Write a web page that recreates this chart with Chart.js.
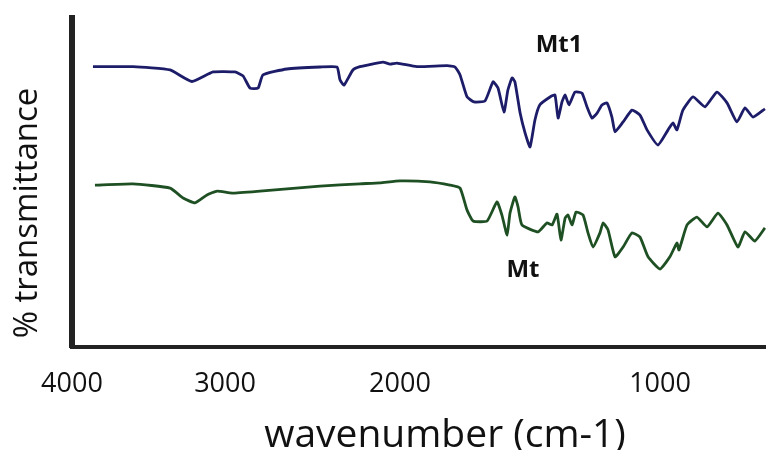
<!DOCTYPE html>
<html>
<head>
<meta charset="utf-8">
<script src="https://cdn.jsdelivr.net/npm/chart.js@4.4.0/dist/chart.umd.min.js"></script>
<style>
    html, body { margin: 0; padding: 0; background: #fff; }
</style>
</head>
<body>
<canvas id="irChart" width="766" height="450"></canvas>
<script>
// FTIR spectra, wavenumber (cm-1) vs % transmittance
const MT1_WN = [3863, 3601, 3359, 3216, 3078, 2943, 2897, 2857, 2811, 2783, 2646, 2457, 2360, 2343, 2320,
    2269, 2229, 2160, 2097, 2057, 2017, 1935, 1819, 1788, 1769, 1742, 1715, 1673, 1642, 1623,
    1600, 1585, 1569, 1558, 1538, 1519, 1500, 1481, 1462, 1423, 1404, 1392, 1377, 1365, 1350,
    1327, 1300, 1281, 1262, 1242, 1223, 1204, 1185, 1173, 1142, 1108, 1077, 1050, 1008, 969,
    950, 935, 912, 873, 827, 781, 742, 704, 673, 642, 596];
const MT1_T = [85.2, 85.2, 84.2, 80.7, 83.6, 83.6, 82.4, 78.7, 78.7, 82.7, 84.5, 85.1, 85.1, 81.2, 79.6,
    84.2, 85.2, 86.0, 86.6, 86.0, 86.3, 85.2, 85.5, 85.1, 82.7, 76.0, 74.5, 74.8, 80.6, 78.7,
    71.4, 78.1, 81.8, 80.6, 71.1, 65.1, 60.8, 69.0, 73.6, 76.0, 76.6, 69.6, 74.5, 76.6, 73.6,
    77.5, 77.2, 73.0, 69.6, 71.1, 73.6, 74.2, 69.9, 65.4, 68.4, 72.0, 70.5, 66.0, 61.4, 66.0,
    68.1, 66.0, 72.0, 76.0, 73.0, 77.5, 74.2, 68.4, 72.7, 69.9, 72.4];

const MT_WN = [3850, 3601, 3359, 3274, 3196, 3118, 3052, 2960, 2800, 2457, 2229, 2114, 2000, 1885, 1808,
    1769, 1742, 1719, 1665, 1627, 1608, 1588, 1577, 1558, 1546, 1531, 1469, 1435, 1415, 1396,
    1381, 1365, 1354, 1338, 1323, 1296, 1277, 1258, 1231, 1219, 1200, 1173, 1142, 1108, 1077,
    1046, 1000, 962, 935, 927, 896, 858, 819, 777, 742, 700, 673, 635, 596];
const MT_T = [49.2, 49.6, 48.3, 45.3, 43.8, 46.2, 47.4, 46.8, 47.4, 48.9, 49.6, 49.9, 50.5, 50.2, 49.2,
    48.3, 41.6, 38.3, 38.3, 44.1, 40.1, 34.0, 40.7, 45.6, 42.6, 37.1, 35.0, 37.7, 37.1, 40.4,
    32.5, 39.2, 40.1, 37.1, 41.0, 40.1, 34.7, 30.4, 34.7, 37.7, 35.6, 27.4, 30.4, 34.7, 33.4,
    27.4, 23.7, 27.4, 31.6, 29.5, 37.1, 39.5, 36.5, 40.7, 37.1, 30.4, 35.0, 32.2, 36.2];

const SERIES_NAMES = ["Mt1", "Mt"];
const LABEL_WN = [1388, 1527];
const LABEL_T = [91.8, 23.4];
const X_TICKS = [4000, 3000, 2000, 1000];
const X_TITLE = "wavenumber (cm-1)";
const Y_TITLE = "% transmittance";

// the original axis is not linear: each 1000 cm-1 gets a different width
const AXIS_KNOTS = [[4000, 0], [3000, 0.2205], [2000, 0.4726], [1000, 0.8473], [592, 1]];

class IrScale extends Chart.LinearScale {
    getPixelForValue(value) {
        let frac = 0;
        for (let i = 0; i < AXIS_KNOTS.length - 1; i++) {
            const [v0, f0] = AXIS_KNOTS[i];
            const [v1, f1] = AXIS_KNOTS[i + 1];
            if (value <= v0 && value >= v1 || i == AXIS_KNOTS.length - 2) {
                frac = f0 + (v0 - value) / (v0 - v1) * (f1 - f0);
                break;
            }
        }
        return this.getPixelForDecimal(frac);
    }
    getValueForPixel(pixel) {
        const frac = this.getDecimalForPixel(pixel);
        for (let i = 0; i < AXIS_KNOTS.length - 1; i++) {
            const [v0, f0] = AXIS_KNOTS[i];
            const [v1, f1] = AXIS_KNOTS[i + 1];
            if (frac <= f1 || i == AXIS_KNOTS.length - 2) {
                return v0 - (frac - f0) / (f1 - f0) * (v0 - v1);
            }
        }
    }
}
IrScale.id = 'irscale';
IrScale.defaults = Chart.LinearScale.defaults;
Chart.register(IrScale);

function toPoints(xs, ys) {
    return xs.map((x, i) => ({x: x, y: ys[i]}));
}

const textPlugin = {
    id: 'irText',
    afterDraw(chart) {
        const ctx = chart.ctx;
        const xs = chart.scales.x;
        const ys = chart.scales.y;
        ctx.save();
        ctx.fillStyle = '#111';
        ctx.textAlign = 'center';
        ctx.textBaseline = 'middle';
        ctx.font = 'bold 24px "Open Sans"';
        for (let i = 0; i < SERIES_NAMES.length; i++) {
            ctx.fillText(SERIES_NAMES[i], xs.getPixelForValue(LABEL_WN[i]), ys.getPixelForValue(LABEL_T[i]));
        }
        ctx.font = '39px "Open Sans"';
        ctx.fillText(X_TITLE, 445, 436);
        ctx.translate(28, 213);
        ctx.rotate(-Math.PI / 2);
        ctx.font = '33px "Open Sans"';
        ctx.fillText(Y_TITLE, 0, 0);
        ctx.restore();
    }
};

new Chart(document.getElementById('irChart'), {
    type: 'line',
    data: {
        datasets: [{
            label: SERIES_NAMES[0],
            data: toPoints(MT1_WN, MT1_T),
            borderColor: 'rgb(28, 28, 105)',
            borderWidth: 2.8,
            pointRadius: 0,
            tension: 0.15
        }, {
            label: SERIES_NAMES[1],
            data: toPoints(MT_WN, MT_T),
            borderColor: 'rgb(30, 80, 35)',
            borderWidth: 2.8,
            pointRadius: 0,
            tension: 0.15
        }]
    },
    options: {
        responsive: false,
        animation: false,
        layout: {padding: {top: 18, right: 0, bottom: 0, left: 0}},
        plugins: {legend: {display: false}, tooltip: {enabled: false}},
        scales: {
            x: {
                type: 'irscale',
                min: 592,
                max: 4000,
                grid: {display: false},
                border: {display: true, color: '#222', width: 4},
                afterBuildTicks: (axis) => { axis.ticks = X_TICKS.map(v => ({value: v})); },
                afterFit: (axis) => { axis.height = 103; },
                ticks: {
                    color: '#111',
                    padding: 13,
                    maxRotation: 0,
                    autoSkip: false,
                    font: {family: '"Open Sans"', size: 27},
                    callback: (v) => String(v)
                }
            },
            y: {
                min: 0,
                max: 100,
                grid: {display: false},
                border: {display: true, color: '#222', width: 6},
                ticks: {display: false},
                afterFit: (axis) => { axis.width = 72; }
            }
        }
    },
    plugins: [textPlugin]
});
</script>
</body>
</html>
